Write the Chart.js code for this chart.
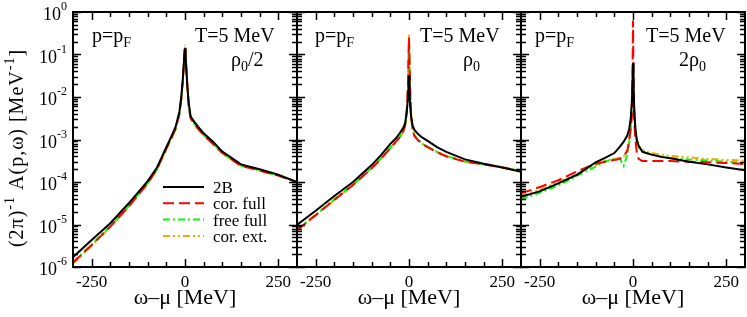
<!DOCTYPE html>
<html>
<head>
<meta charset="utf-8">
<script src="https://cdn.jsdelivr.net/npm/chart.js@4.4.1/dist/chart.umd.min.js"></script>
<style>
  body { margin: 0; background: #fff; }
  #wrap { position: relative; width: 747px; height: 317px; }
  #wrap canvas { position: absolute; left: 0; top: 0; }
</style>
</head>
<body>
<div id="wrap">
  <canvas id="c1" width="747" height="317"></canvas>
  <canvas id="c2" width="747" height="317"></canvas>
  <canvas id="c3" width="747" height="317"></canvas>
</div>
<script>
// --- data (omega - mu in MeV, A in MeV^-1) ---
const omega = [-300, -250, -200, -150, -100, -75, -50, -35, -25, -15, -10, -6, -3, -1.5, 0,
               1.5, 3, 6, 10, 15, 25, 35, 50, 75, 100, 150, 200, 250, 300];
const seriesNames = ['2B', 'cor. full', 'free full', 'cor. ext.'];
const xTickValues = [-250, 0, 250];
const yTickExps = [0, -1, -2, -3, -4, -5, -6];

// rho0/2
const half2B       = [1.7e-6, 4.3e-6, 1.07e-5, 3.2e-5, 1.05e-4, 2.2e-4, 6.6e-4, 1.26e-3, 2.0e-3, 4.5e-3, 1.0e-2, 2.5e-2, 6.3e-2, 0.105, 0.14,
                      0.1, 5.6e-2, 2.0e-2, 7.1e-3, 3.5e-3, 2.6e-3, 2.0e-3, 1.4e-3, 8.9e-4, 5.2e-4, 2.6e-4, 2.0e-4, 1.48e-4, 1.0e-4];
const halfCorFull  = [1.26e-6, 3.3e-6, 8.9e-6, 2.7e-5, 9.3e-5, 2.0e-4, 6.0e-4, 1.15e-3, 1.8e-3, 4.0e-3, 8.9e-3, 2.4e-2, 6.3e-2, 0.112, 0.16,
                      0.107, 5.6e-2, 1.9e-2, 6.3e-3, 3.2e-3, 2.3e-3, 1.8e-3, 1.26e-3, 7.9e-4, 4.8e-4, 2.4e-4, 1.86e-4, 1.41e-4, 1.0e-4];
const halfFreeFull = [1.3e-6, 3.4e-6, 9.1e-6, 2.75e-5, 9.5e-5, 2.0e-4, 6.1e-4, 1.16e-3, 1.8e-3, 4.1e-3, 9.0e-3, 2.4e-2, 6.2e-2, 0.11, 0.15,
                      0.105, 5.5e-2, 1.9e-2, 6.4e-3, 3.2e-3, 2.35e-3, 1.82e-3, 1.28e-3, 8.0e-4, 4.9e-4, 2.45e-4, 1.88e-4, 1.42e-4, 1.0e-4];
const halfCorExt   = [1.2e-6, 3.2e-6, 8.7e-6, 2.65e-5, 9.2e-5, 1.95e-4, 5.9e-4, 1.13e-3, 1.78e-3, 4.0e-3, 8.9e-3, 2.4e-2, 6.4e-2, 0.115, 0.17,
                      0.11, 5.7e-2, 1.9e-2, 6.2e-3, 3.1e-3, 2.3e-3, 1.78e-3, 1.25e-3, 7.8e-4, 4.7e-4, 2.4e-4, 1.85e-4, 1.4e-4, 1.0e-4];

// rho0
const rho2B        = [9.8e-6, 2.1e-5, 4.7e-5, 1.0e-4, 2.5e-4, 4.3e-4, 7.9e-4, 1.07e-3, 1.4e-3, 1.9e-3, 2.5e-3, 4.5e-3, 8.9e-3, 1.6e-2, 3.2e-2,
                      1.4e-2, 6.3e-3, 3.2e-3, 2.1e-3, 1.66e-3, 1.32e-3, 1.12e-3, 9.3e-4, 6.6e-4, 5.1e-4, 3.4e-4, 2.7e-4, 2.2e-4, 1.74e-4];
const rhoCorFull   = [7.4e-6, 1.66e-5, 3.8e-5, 8.5e-5, 2.1e-4, 3.5e-4, 6.3e-4, 8.9e-4, 1.12e-3, 1.58e-3, 2.2e-3, 4.5e-3, 1.6e-2, 6.3e-2, 0.25,
                      6.3e-2, 1.4e-2, 3.5e-3, 1.58e-3, 1.2e-3, 9.5e-4, 7.9e-4, 6.6e-4, 5.0e-4, 4.0e-4, 3.0e-4, 2.6e-4, 2.2e-4, 1.8e-4];
const rhoFreeFull  = [7.6e-6, 1.7e-5, 3.9e-5, 8.7e-5, 2.15e-4, 3.6e-4, 6.4e-4, 9.0e-4, 1.14e-3, 1.6e-3, 2.25e-3, 4.6e-3, 1.5e-2, 6.0e-2, 0.22,
                      6.0e-2, 1.5e-2, 3.6e-3, 1.6e-3, 1.22e-3, 9.7e-4, 8.0e-4, 6.7e-4, 5.1e-4, 4.1e-4, 3.05e-4, 2.6e-4, 2.2e-4, 1.8e-4];
const rhoCorExt    = [7.2e-6, 1.63e-5, 3.75e-5, 8.4e-5, 2.1e-4, 3.5e-4, 6.2e-4, 8.8e-4, 1.1e-3, 1.56e-3, 2.2e-3, 4.6e-3, 1.7e-2, 6.8e-2, 0.29,
                      6.8e-2, 1.5e-2, 3.6e-3, 1.6e-3, 1.22e-3, 9.6e-4, 8.0e-4, 6.7e-4, 5.1e-4, 4.1e-4, 3.05e-4, 2.65e-4, 2.25e-4, 1.85e-4];

// 2 rho0
const dbl2B        = [4.5e-5, 6.0e-5, 9.3e-5, 1.48e-4, 2.9e-4, 3.7e-4, 4.8e-4, 6.8e-4, 8.9e-4, 1.26e-3, 1.8e-3, 3.2e-3, 7.9e-3, 2.0e-2, 6.3e-2,
                      2.0e-2, 6.3e-3, 2.0e-3, 1.0e-3, 7.1e-4, 5.2e-4, 4.8e-4, 4.4e-4, 3.9e-4, 3.6e-4, 3.0e-4, 2.6e-4, 2.2e-4, 1.9e-4];
const dblCorFull   = [5.4e-5, 7.6e-5, 1.1e-4, 1.78e-4, 2.7e-4, 3.0e-4, 3.3e-4, 3.5e-4, 4.0e-4, 5.6e-4, 1.0e-3, 1.8e-3, 3.5e-3, 2.5e-2, 0.63,
                      2.5e-2, 3.2e-3, 1.12e-3, 5.0e-4, 3.5e-4, 3.1e-4, 3.1e-4, 3.1e-4, 3.1e-4, 3.1e-4, 3.0e-4, 2.9e-4, 2.8e-4, 2.65e-4];
const dblFreeFull  = [3.9e-5, 5.6e-5, 8.3e-5, 1.41e-4, 2.3e-4, 3.0e-4, 3.5e-4, 3.5e-4, 2.4e-4, 4.5e-4, 8.9e-4, 2.0e-3, 6.3e-3, 1.6e-2, 5.0e-2,
                      1.6e-2, 5.0e-3, 1.8e-3, 8.9e-4, 6.6e-4, 5.2e-4, 4.8e-4, 4.4e-4, 4.0e-4, 3.7e-4, 3.4e-4, 3.2e-4, 3.0e-4, 2.8e-4];
const dblCorExt    = [4.7e-5, 6.6e-5, 1.0e-4, 1.58e-4, 2.5e-4, 3.2e-4, 3.5e-4, 3.7e-4, 4.0e-4, 5.0e-4, 8.9e-4, 2.0e-3, 6.3e-3, 1.6e-2, 5.6e-2,
                      1.6e-2, 5.0e-3, 1.9e-3, 1.0e-3, 7.1e-4, 5.8e-4, 5.2e-4, 4.8e-4, 4.4e-4, 4.1e-4, 3.8e-4, 3.5e-4, 3.3e-4, 3.2e-4];

// --- drawing ---
const FONT = "'Liberation Serif', 'Times New Roman', serif";
const W = 747, H = 317;
const PANEL_W = 224, TOP = 12, BOTTOM = 267;

const lineStyles = [
    { borderColor: '#000000', borderDash: [] },
    { borderColor: '#ff0000', borderDash: [11, 5] },
    { borderColor: '#00ff00', borderDash: [7, 3, 2, 3] },
    { borderColor: '#ffa500', borderDash: [7, 3, 2, 3, 2, 3] }
];

// parts: [text, size, dy]
function richText(ctx, parts, x, y, align) {
    let w = 0;
    parts.forEach(p => { ctx.font = p[1] + 'px ' + FONT; w += ctx.measureText(p[0]).width; });
    let cx = align === 'center' ? x - w / 2 : align === 'right' ? x - w : x;
    ctx.textAlign = 'left';
    ctx.textBaseline = 'alphabetic';
    parts.forEach(p => {
        ctx.font = p[1] + 'px ' + FONT;
        ctx.fillText(p[0], cx, y + (p[2] || 0));
        cx += ctx.measureText(p[0]).width;
    });
}

const framePlugin = {
    id: 'frame',
    afterDatasetsDraw(chart, args, opts) {
        const { ctx, chartArea: a } = chart;
        const xs = chart.scales.x, ys = chart.scales.y;
        ctx.save();
        ctx.strokeStyle = '#000';
        ctx.fillStyle = '#000';

        // ticks, pointing inwards on all four sides
        ctx.lineWidth = 1.5;
        ctx.beginPath();
        for (let v = -250; v <= 250; v += 50) {
            const px = Math.round(xs.getPixelForValue(v)) + 0.5;
            const len = v % 250 === 0 ? 8 : 5;
            ctx.moveTo(px, a.bottom); ctx.lineTo(px, a.bottom - len);
            ctx.moveTo(px, a.top); ctx.lineTo(px, a.top + len);
        }
        for (let e = -6; e <= 0; e++) {
            for (let k = 1; k <= 9; k++) {
                if (e === 0 && k > 1) break;
                const py = Math.round(ys.getPixelForValue(k * Math.pow(10, e))) + 0.5;
                const len = k === 1 ? 8 : 5;
                ctx.moveTo(a.left, py); ctx.lineTo(a.left + len, py);
                ctx.moveTo(a.right, py); ctx.lineTo(a.right - len, py);
            }
        }
        ctx.stroke();

        ctx.lineWidth = 2;
        ctx.strokeRect(a.left, a.top, a.right - a.left, a.bottom - a.top);

        // x tick labels and title
        xTickValues.forEach(v => {
            richText(ctx, [[String(v), 17]], xs.getPixelForValue(v), 287, 'center');
        });
        richText(ctx, [['ω–μ [MeV]', 22]], (a.left + a.right) / 2, 304, 'center');

        // y tick labels and title (first panel only)
        if (opts.yLabels) {
            yTickExps.forEach(e => {
                const py = ys.getPixelForValue(Math.pow(10, e));
                ctx.font = '12px ' + FONT;
                const supW = ctx.measureText(String(e)).width;
                richText(ctx, [['10', 18]], 67 - supW, py + 8, 'right');
                richText(ctx, [[String(e), 12]], 67 - supW, py - 2, 'left');
            });
            ctx.save();
            ctx.translate(23, 148);
            ctx.rotate(-Math.PI / 2);
            ctx.letterSpacing = '1px';
            richText(ctx, [['(2π)', 20], ['-1', 14, -9], [' A(p,ω) [MeV', 20], ['-1', 14, -9], [']', 20]], 0, 0, 'center');
            ctx.letterSpacing = '0px';
            ctx.restore();
        }

        // annotations
        opts.notes.forEach(n => richText(ctx, n.parts, n.x, n.y, 'left'));

        // legend
        if (opts.legend) {
            chart.data.datasets.forEach((ds, i) => {
                const ry = 187 + i * 16.3;
                ctx.strokeStyle = ds.borderColor;
                ctx.lineWidth = 2;
                ctx.setLineDash(ds.borderDash);
                ctx.beginPath();
                ctx.moveTo(163, ry); ctx.lineTo(204, ry);
                ctx.stroke();
                ctx.setLineDash([]);
                ctx.fillStyle = '#000';
                richText(ctx, [[ds.label, 17]], 213, ry + 6, 'left');
            });
        }
        ctx.restore();
    }
};

function pF(x) {
    return { x: x, y: 42, parts: [['p=p', 20], ['F', 14, 5]] };
}
function temp(x) {
    return { x: x, y: 42, parts: [['T=5 MeV', 20]] };
}

function makePanel(id, left, series, notes, first) {
    const datasets = series.map((vals, i) => ({
        label: seriesNames[i],
        data: omega.map((w, j) => ({ x: w, y: vals[j] })),
        borderColor: lineStyles[i].borderColor,
        borderDash: lineStyles[i].borderDash,
        borderWidth: 2,
        pointRadius: 0,
        tension: 0,
        fill: false
    }));
    return new Chart(document.getElementById(id), {
        type: 'line',
        data: { datasets },
        plugins: [framePlugin],
        options: {
            responsive: false,
            animation: false,
            devicePixelRatio: 1,
            layout: { padding: { left: left, right: W - left - PANEL_W, top: TOP, bottom: H - BOTTOM } },
            scales: {
                x: { type: 'linear', min: -300, max: 300, display: false },
                y: { type: 'logarithmic', min: 1e-6, max: 1, display: false }
            },
            plugins: {
                legend: { display: false },
                tooltip: { enabled: false },
                frame: { yLabels: first, legend: first, notes: notes }
            }
        }
    });
}

makePanel('c1', 73, [half2B, halfCorFull, halfFreeFull, halfCorExt],
    [pF(92), temp(195), { x: 231, y: 66, parts: [['ρ', 20], ['0', 14, 5], ['/2', 20]] }], true);
makePanel('c2', 297, [rho2B, rhoCorFull, rhoFreeFull, rhoCorExt],
    [pF(315), temp(420), { x: 463, y: 66, parts: [['ρ', 20], ['0', 14, 5]] }], false);
makePanel('c3', 521, [dbl2B, dblCorFull, dblFreeFull, dblCorExt],
    [pF(535), temp(646), { x: 679, y: 66, parts: [['2ρ', 20], ['0', 14, 5]] }], false);
</script>
</body>
</html>
